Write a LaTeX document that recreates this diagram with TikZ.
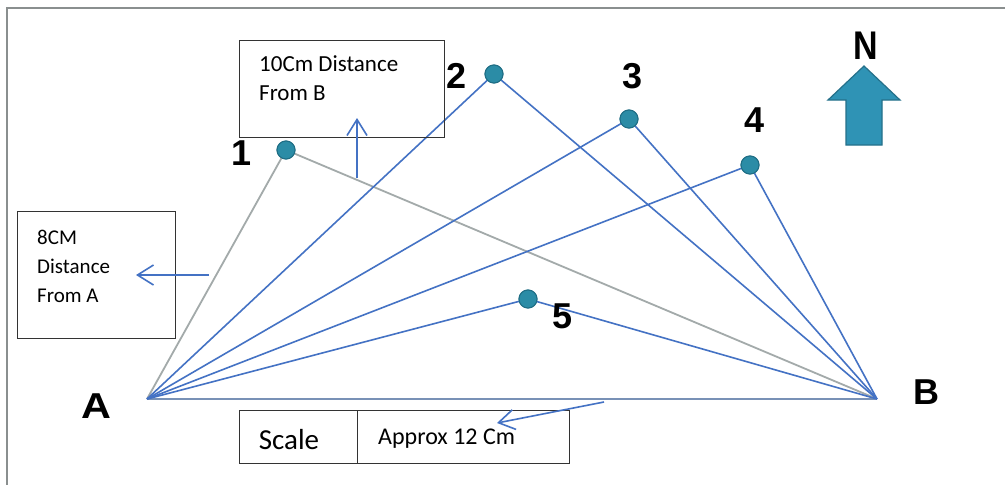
\documentclass[tikz,border=0pt]{standalone}
\usepackage{fontspec}
\setmainfont{Carlito}
\newfontfamily\lblfont{Liberation Sans}
\usetikzlibrary{arrows.meta}
\definecolor{lineblue}{HTML}{4472C4}
\definecolor{linegray}{HTML}{A3AAAA}
\definecolor{dotteal}{HTML}{2B8CA6}
\definecolor{dotedge}{HTML}{1F6E85}
\definecolor{arrteal}{HTML}{2F93B5}
\definecolor{arredge}{HTML}{25708A}
\definecolor{framegray}{HTML}{8A8F8F}
\tikzset{
  dot/.style={circle,fill=dotteal,draw=dotedge,line width=1pt,minimum size=18pt,inner sep=0pt},
  blueline/.style={draw=lineblue,line width=1.6pt},
  grayline/.style={draw=linegray,line width=1.8pt},
  ptlabel/.style={font=\lblfont\bfseries\fontsize{36}{36}\selectfont,inner sep=0pt},
  textbox/.style={draw=black!80,line width=1.3pt,inner sep=0pt,anchor=north west},
  boxtext/.style={font=\fontsize{21}{26}\selectfont,inner sep=0pt,anchor=base west},
  callout/.style={draw=lineblue,line width=1.6pt,-{Straight Barb[length=16pt,width=20pt,line width=1.6pt]}},
}
\begin{document}
\begin{tikzpicture}[x=1pt,y=-1pt]
\useasboundingbox (0,0) rectangle (1005,485);
\fill[white] (0,0) rectangle (1005,485);
% frame (top and left edges only)
\draw[framegray,line width=2.5pt] (7,485) -- (7,8) -- (1005,8);

% points
\coordinate (A) at (147,399);
\coordinate (B) at (877,399);

% base line
\draw[draw=lineblue!45!linegray,line width=2pt] (A) -- (B);

% dots
\node[dot] (p1) at (286,150) {};
\node[dot] (p2) at (494,74) {};
\node[dot] (p3) at (629,119) {};
\node[dot] (p4) at (750,165) {};
\node[dot] (p5) at (528,299) {};

% connectors
\draw[grayline] (A) -- (p1.center);
\draw[grayline] (p1.center) -- (B);
\foreach \p in {p2,p3,p4,p5}{
  \draw[blueline] (A) -- (\p.center);
  \draw[blueline] (\p.center) -- (B);
}
% redraw dots on top of the lines
\foreach \p in {p1,p2,p3,p4,p5}{
  \node[dot] at (\p) {};
}

% point labels
\node[ptlabel] (l1) at (242,153) {1};
\node[ptlabel] (l2) at (457,76) {2};
\node[ptlabel] (l3) at (633,76) {3};
\node[ptlabel] (l4) at (755,120) {4};
\node[ptlabel] (l5) at (563,316) {5};
\node[ptlabel,xscale=1.15] (lA) at (96,406) {A};
\node[ptlabel] (lB) at (926,392) {B};
\node[ptlabel,font=\lblfont\bfseries\fontsize{40}{40}\selectfont,xscale=0.85] (lN) at (866,46) {N};

% north arrow
\filldraw[fill=arrteal,draw=arredge,line width=1.2pt]
  (864,66) -- (900,100) -- (882,100) -- (882,145) -- (846,145) -- (846,100) -- (828,100) -- cycle;

% box: 10Cm distance from B
\node[textbox,minimum width=205pt,minimum height=97pt] (boxB) at (239,40) {};
\node[boxtext,font=\fontsize{23}{26}\selectfont] (tB1) at (259,71) {10Cm Distance};
\node[boxtext,font=\fontsize{23}{26}\selectfont] (tB2) at (259,100) {From B};
\coordinate (cB0) at (357,178);
\coordinate (cB1) at (357,118);
\draw[callout] (cB0) -- (cB1);

% box: 8CM distance from A
\node[textbox,minimum width=158pt,minimum height=127pt] (boxA) at (17,211) {};
\node[boxtext] (tA1) at (37,244) {8CM};
\node[boxtext] (tA2) at (37,273) {Distance};
\node[boxtext] (tA3) at (37,302) {From A};
\coordinate (cA0) at (209,275);
\coordinate (cA1) at (136,275);
\draw[callout] (cA0) -- (cA1);

% scale box
\node[textbox,minimum width=118pt,minimum height=53pt] (scL) at (239,410) {};
\node[textbox,minimum width=212pt,minimum height=53pt] (scR) at (357,410) {};
\node[font=\fontsize{29}{29}\selectfont,inner sep=0pt] (tS) at (289,440) {Scale};
\node[boxtext,font=\fontsize{24}{26}\selectfont] (tS2) at (378,444) {Approx 12 Cm};
\coordinate (cS0) at (604,402);
\coordinate (cS1) at (497,423);
\draw[callout] (cS0) -- (cS1);
\end{tikzpicture}
\end{document}
